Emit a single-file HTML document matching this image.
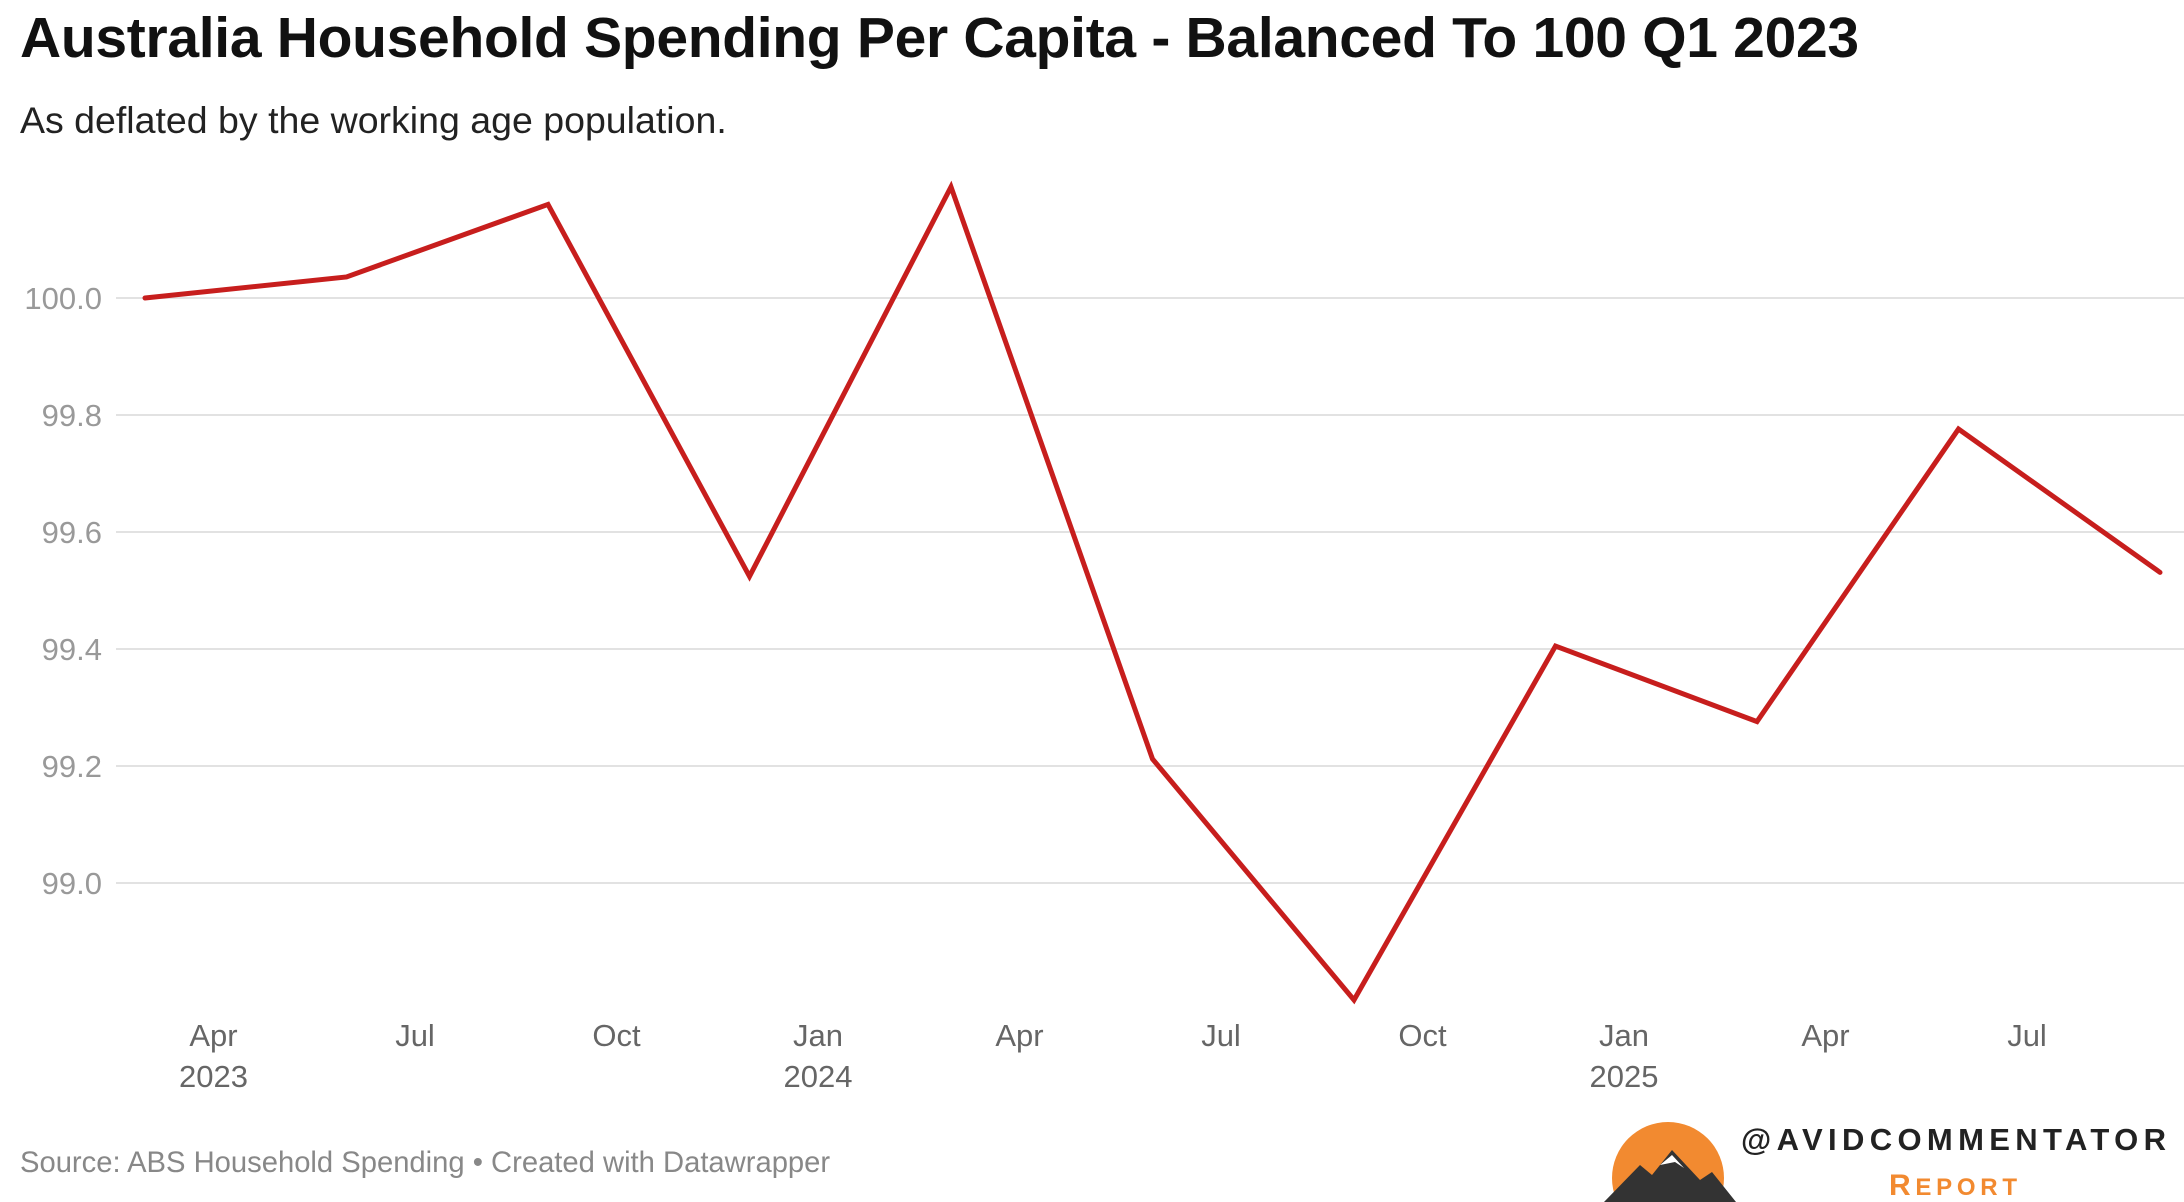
<!DOCTYPE html>
<html><head><meta charset="utf-8"><style>
html,body{margin:0;padding:0;background:#fff;}
body{width:2184px;height:1202px;overflow:hidden;position:relative;font-family:"Liberation Sans",sans-serif;}
#title{position:absolute;left:20px;top:5px;font-size:57px;font-weight:bold;color:#111;white-space:nowrap;letter-spacing:-0.3px;}
#sub{position:absolute;left:20px;top:99px;font-size:37.5px;color:#222;white-space:nowrap;}
#src{position:absolute;left:20px;top:1147px;font-size:29.2px;color:#888;white-space:nowrap;}
svg{position:absolute;left:0;top:0;}
</style></head><body>
<div id="title">Australia Household Spending Per Capita - Balanced To 100 Q1 2023</div>
<div id="sub">As deflated by the working age population.</div>
<div id="src">Source: ABS Household Spending • Created with Datawrapper</div>
<svg id="chart" width="2184" height="1202"></svg>
<script>
const quarters=["Q1 2023","Q2 2023","Q3 2023","Q4 2023","Q1 2024","Q2 2024","Q3 2024","Q4 2024","Q1 2025","Q2 2025","Q3 2025"];
const values=[100.0,100.036,100.16,99.524,100.19,99.212,98.80,99.405,99.276,99.776,99.531];
const yTicks=[100.0,99.8,99.6,99.4,99.2,99.0];
const xTickLabels=["Apr","Jul","Oct","Jan","Apr","Jul","Oct","Jan","Apr","Jul"];
const xTickYears=["2023","","","2024","","","","2025","",""];
const NS="http://www.w3.org/2000/svg";
const svg=document.getElementById('chart');
function xs(i){return 145+i*201.5;}
function ys(v){return 298+(100-v)*585;}
function mk(t,a){const e=document.createElementNS(NS,t);for(const k in a)e.setAttribute(k,a[k]);svg.appendChild(e);return e;}
yTicks.forEach((v,i)=>{
  const l=mk('line',{x1:116,x2:2184,y1:ys(v),y2:ys(v),stroke:'#e2e2e2','stroke-width':2});
  
  
  const t=mk('text',{x:102,y:ys(v)+11,'text-anchor':'end','font-size':31,fill:'#999','font-family':'Liberation Sans, sans-serif'});
  t.textContent=v.toFixed(1);
  
  
});
xTickLabels.forEach((lab,k)=>{
  const x=xs(k+0.34);
  const t=mk('text',{x:x,y:1046,'text-anchor':'middle','font-size':31,fill:'#666','font-family':'Liberation Sans, sans-serif'});
  t.textContent=lab;
  
  
  if(xTickYears[k]){
    const y=mk('text',{x:x,y:1087,'text-anchor':'middle','font-size':31,fill:'#666','font-family':'Liberation Sans, sans-serif'});
    y.textContent=xTickYears[k];
    
    
  }
});
const p=mk('polyline',{points:values.map((v,i)=>xs(i)+','+ys(v)).join(' '),fill:'none',stroke:'#c71e1d','stroke-width':5,'stroke-linejoin':'miter','stroke-linecap':'round'});


</script>
<svg width="2184" height="1202" style="pointer-events:none">
  <clipPath id="cl"><rect x="1600" y="1100" width="200" height="102"/></clipPath>
  <circle cx="1668" cy="1178" r="56" fill="#f28a30" clip-path="url(#cl)"/>
  <polygon points="1604,1202 1640,1165 1652,1175 1672,1150 1700,1180 1712,1172 1736,1202" fill="#333"/>
  <polygon points="1660,1165 1672,1155 1684,1168 1675,1162" fill="#fff"/>
  <text x="1741" y="1150" font-size="31" font-weight="bold" fill="#222" textLength="425" lengthAdjust="spacing" font-family="Liberation Sans, sans-serif">@AVIDCOMMENTATOR</text>
  <text x="1889" y="1195" font-size="30" font-weight="bold" fill="#f28a30" textLength="128" lengthAdjust="spacing" font-family="Liberation Sans, sans-serif">R<tspan font-size="24">EPORT</tspan></text>
</svg>
</body></html>
